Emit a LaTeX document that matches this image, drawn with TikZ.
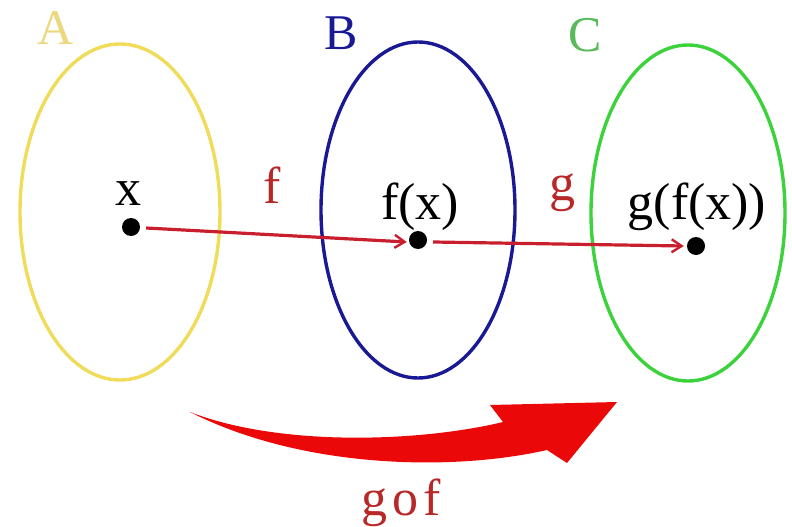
\documentclass[tikz,border=0pt]{standalone}
\usepackage{fontspec}
\setmainfont{Liberation Serif}
\usetikzlibrary{arrows.meta}
\definecolor{ycol}{RGB}{238,220,90}
\definecolor{bcol}{RGB}{25,25,150}
\definecolor{gcol}{RGB}{60,210,60}
\definecolor{ylab}{RGB}{236,216,125}
\definecolor{glab}{RGB}{90,185,90}
\definecolor{flab}{RGB}{185,40,40}
\definecolor{arr}{RGB}{200,30,45}
\definecolor{big}{RGB}{235,8,8}
\tikzset{
  setell/.style={draw=#1, line width=3.4pt},
  pt/.style={circle, fill=black, inner sep=0pt, minimum size=18pt},
  lab/.style={font=\fontsize{52}{54}\selectfont, inner sep=0pt, anchor=base},
  setlab/.style={font=\fontsize{50}{52}\selectfont, inner sep=0pt, anchor=base},
  maparrow/.style={draw=arr, line width=3.2pt, -{Straight Barb[length=10pt,width=13pt,line width=2.4pt]}}
}
\begin{document}
\begin{tikzpicture}[x=1pt,y=-1pt]
\useasboundingbox (0,0) rectangle (792,527);
% sets
\draw[setell=ycol] (120,212) ellipse [x radius=100, y radius=168];
\draw[setell=bcol] (418,210) ellipse [x radius=97, y radius=168];
\draw[setell=gcol] (688,213) ellipse [x radius=97, y radius=168];
\node[setlab, text=ylab] (la) at (56,45) {A};
\node[setlab, text=bcol] (lb) at (341,50) {B};
\node[setlab, text=glab] (lc) at (585,52) {C};
% points
\node[pt] (x) at (131,227) {};
\node[pt] (fx) at (418,240) {};
\node[pt] (gfx) at (696,246) {};
\node[lab] (tx) at (128,205) {x};
\node[lab] (tfx) at (420,219) {f(x)};
\node[lab] (tgfx) at (697,219) {g(f(x))};
\node[lab, text=flab] (tf) at (272,203) {f};
\node[lab, text=flab] (tg) at (562,200) {g};
% maps
\draw[maparrow] ([xshift=6pt,yshift=-1pt]x.east) -- ([xshift=-2pt,yshift=-2pt]fx.west);
\draw[maparrow] ([xshift=6pt,yshift=-2pt]fx.east) -- ([xshift=-3pt]gfx.west);
% composite arrow
\fill[big] (190,412) .. controls (280,447) and (420,442) .. (503,422)
  -- (490,405) -- (617,402) -- (567,463) -- (547,450)
  .. controls (450,472) and (300,468) .. (190,412) -- cycle;
\node[lab, text=flab] (tgof) at (401,515) {g\kern5pt o\kern5pt f};
\end{tikzpicture}
\end{document}
